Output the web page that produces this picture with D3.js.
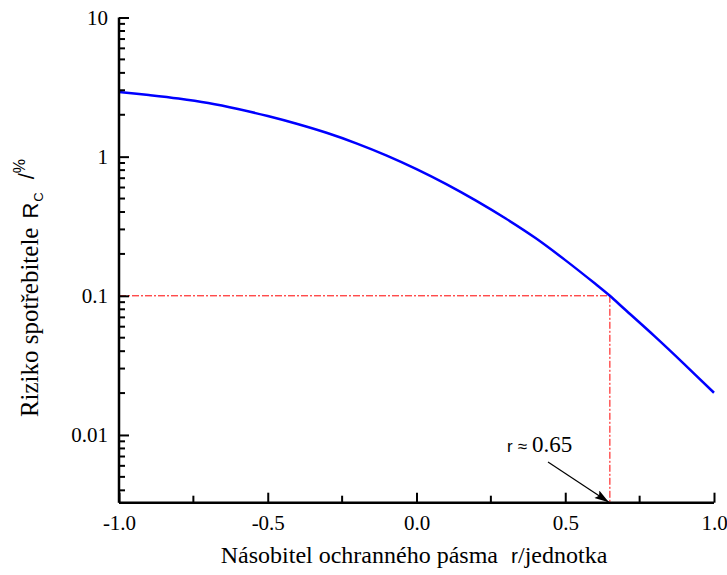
<!DOCTYPE html>
<html>
<head>
<meta charset="utf-8">
<script src="https://cdn.jsdelivr.net/npm/d3@7"></script>
<style>
  html, body { margin: 0; padding: 0; background: #fff; }
  svg { display: block; }
</style>
</head>
<body>
<svg id="chart" width="727" height="575"></svg>
<script>
// ---- data ----
const rValues = [-1.0, -0.9, -0.8, -0.7, -0.6, -0.5, -0.4, -0.3, -0.2, -0.1, 0.0, 0.1, 0.2, 0.3, 0.4, 0.5, 0.6, 0.65, 0.7, 0.8, 0.9, 1.0];
const riskValues = [2.913, 2.772, 2.617, 2.428, 2.199, 1.958, 1.716, 1.478, 1.242, 1.018, 0.814, 0.635, 0.483, 0.359, 0.260, 0.1805, 0.1224, 0.1, 0.080, 0.0513, 0.0323, 0.0201];
const xTickValues = [-1.0, -0.5, 0.0, 0.5, 1.0];
const xTickLabels = ["-1.0", "-0.5", "0.0", "0.5", "1.0"];
const xMinorTicks = [-0.75, -0.25, 0.25, 0.75];
const yTickValues = [0.01, 0.1, 1, 10];
const yTickLabels = ["0.01", "0.1", "1", "10"];
const markR = [0.65];
const markRisk = [0.1];

// ---- layout ----
const svg = d3.select("#chart");
const x = d3.scaleLinear().domain([-1, 1]).range([119, 714]);
const y = d3.scaleLog().domain([0.00326, 10]).range([502.7, 17.5]);
const SERIF = "Liberation Serif";
const SANS = "Liberation Sans";

// minor y ticks
const yMinor = [];
[0.001, 0.01, 0.1, 1].forEach(d => {
  for (let k = 2; k <= 9; k++) {
    const v = d * k;
    if (v >= 0.00326 && v <= 10) yMinor.push(v);
  }
});

const g = svg.append("g");

// red dash-dot guides
g.append("line")
  .attr("x1", x(-1)).attr("x2", x(markR[0]))
  .attr("y1", y(markRisk[0])).attr("y2", y(markRisk[0]))
  .attr("stroke", "#ff0000").attr("stroke-width", 1)
  .attr("stroke-dasharray", "7,2,2,2");
g.append("line")
  .attr("x1", x(markR[0])).attr("x2", x(markR[0]))
  .attr("y1", y(markRisk[0])).attr("y2", y.range()[0])
  .attr("stroke", "#ff0000").attr("stroke-width", 1)
  .attr("stroke-dasharray", "7,2,2,2");

// curve
const data = rValues.map((r, i) => ({ r, v: riskValues[i] }));
g.append("path")
  .datum(data)
  .attr("fill", "none")
  .attr("stroke", "#0000ff")
  .attr("stroke-width", 2.5)
  .attr("d", d3.line().x(d => x(d.r)).y(d => y(d.v)).curve(d3.curveCatmullRom.alpha(0.5)));

// x axis (ticks inward)
const xAxis = d3.axisBottom(x).tickValues(xTickValues)
  .tickFormat((d, i) => xTickLabels[i]).tickSize(-10).tickPadding(12);
const xg = svg.append("g").attr("transform", `translate(0,${y.range()[0]})`).call(xAxis);
xg.attr("font-family", SERIF).attr("font-size", 21);
xg.select(".domain").attr("stroke-width", 2.5).attr("d", `M${x(-1)},0H${x(1)}`);
xg.selectAll(".tick line").attr("stroke-width", 2);
xg.selectAll(".tick text").attr("fill", "#000");
xg.selectAll(".minor").data(xMinorTicks).enter().append("line")
  .attr("x1", d => x(d)).attr("x2", d => x(d))
  .attr("y1", 0).attr("y2", -7)
  .attr("stroke", "#000").attr("stroke-width", 2);

// y axis (ticks inward)
const yAxis = d3.axisLeft(y).tickValues(yTickValues)
  .tickFormat((d, i) => yTickLabels[i]).tickSize(-10).tickPadding(11);
const yg = svg.append("g").attr("transform", `translate(${x.range()[0]},0)`).call(yAxis);
yg.attr("font-family", SERIF).attr("font-size", 21);
yg.select(".domain").attr("stroke-width", 2.5).attr("d", `M0,${y.range()[0]}V${y.range()[1]}`);
yg.selectAll(".tick line").attr("stroke-width", 2);
yg.selectAll(".tick text").attr("fill", "#000");
yg.selectAll(".minor").data(yMinor).enter().append("line")
  .attr("x1", 0).attr("x2", 6)
  .attr("y1", d => y(d)).attr("y2", d => y(d))
  .attr("stroke", "#000").attr("stroke-width", 2);

// helper: a run of text pieces, each its own <text>, laid out horizontally in a group
function textRun(parent, pieces) {
  const grp = parent.append("g");
  let cx = 0;
  pieces.forEach(p => {
    const t = grp.append("text")
      .attr("x", cx + (p.dx || 0)).attr("y", p.dy || 0)
      .attr("font-family", p.font).attr("font-size", p.size)
      .attr("fill", "#000").text(p.text);
    cx += (p.dx || 0) + t.node().getComputedTextLength();
  });
  return { grp, width: cx };
}

// annotation arrow
svg.append("defs").append("marker")
  .attr("id", "arrow").attr("viewBox", "0 0 16 10")
  .attr("refX", 16).attr("refY", 5)
  .attr("markerWidth", 16).attr("markerHeight", 9)
  .attr("markerUnits", "userSpaceOnUse")
  .attr("orient", "auto")
  .append("path").attr("d", "M0,0L16,5L0,10L3,5z").attr("fill", "#000");
svg.append("line")
  .attr("x1", 548).attr("y1", 462)
  .attr("x2", x(markR[0]) - 1).attr("y2", y.range()[0] - 0.5)
  .attr("stroke", "#000").attr("stroke-width", 1.2)
  .attr("marker-end", "url(#arrow)");
const ann = textRun(svg, [
  { text: "r", font: SANS, size: 17 },
  { text: "≈", font: SANS, size: 17, dx: 5 },
  { text: "0.65", font: SERIF, size: 23, dx: 5 }
]);
ann.grp.attr("transform", "translate(507,452)");

// x axis title
const xt = textRun(svg, [
  { text: "Násobitel ochranného pásma", font: SERIF, size: 24 },
  { text: "r", font: SANS, size: 21, dx: 13 },
  { text: "/jednotka", font: SERIF, size: 24 }
]);
xt.grp.attr("transform", `translate(${414 - xt.width / 2},563)`);

// y axis title
const yt = textRun(svg, [
  { text: "Riziko spotřebitele", font: SERIF, size: 25 },
  { text: "R", font: SANS, size: 22, dx: 9 },
  { text: "C", font: SANS, size: 13, dy: 5, dx: 1 },
  { text: "/", font: SANS, size: 22, dy: -4, dx: 13 },
  { text: "%", font: SANS, size: 16, dy: -13 }
]);
yt.grp.attr("transform", `translate(38,${288 + yt.width / 2}) rotate(-90)`);
</script>
</body>
</html>
